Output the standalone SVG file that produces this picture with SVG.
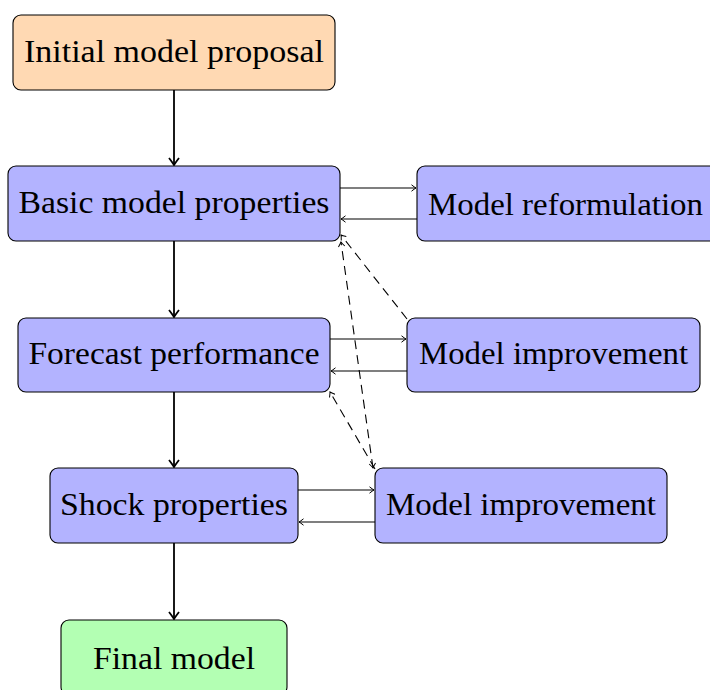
<svg xmlns="http://www.w3.org/2000/svg" width="710" height="690" viewBox="0 0 710 690">
<style>
.box{stroke:#000;stroke-width:1.1}
.orange{fill:#FFD9B3}
.blue{fill:#B3B3FF}
.green{fill:#B3FFB3}
text{font-family:"Liberation Serif","Times New Roman",serif;font-size:32px;fill:#000;text-anchor:middle}
.main{stroke:#000;stroke-width:1.8;fill:none;marker-end:url(#thick)}
.thin{stroke:#000;stroke-width:1.1;fill:none;marker-end:url(#tip)}
.dash{stroke:#000;stroke-width:1.1;fill:none;stroke-dasharray:9 6;marker-end:url(#tip)}
</style>
<defs>
<marker id="thick" viewBox="-9 -6 11 12" markerWidth="11" markerHeight="12" refX="0" refY="0" orient="auto" markerUnits="userSpaceOnUse">
<path d="M-7,-5 Q-2,-1.2 0,0 Q-2,1.2 -7,5" fill="none" stroke="#000" stroke-width="1.8"/>
</marker>
<marker id="tip" viewBox="-6 -4 8 8" markerWidth="8" markerHeight="8" refX="0" refY="0" orient="auto-start-reverse" markerUnits="userSpaceOnUse">
<path d="M-4.5,-3.2 Q-1.5,-0.8 0,0 Q-1.5,0.8 -4.5,3.2" fill="none" stroke="#000" stroke-width="1"/>
</marker>
</defs>
<g id="connectors">
<path class="main" d="M174,90 V165"/>
<path class="main" d="M174,241 V317"/>
<path class="main" d="M174,392 V467"/>
<path class="main" d="M174,543 V619"/>
<path class="thin" d="M340,188 H416"/>
<path class="thin" d="M417,219 H341"/>
<path class="thin" d="M330,339 H406"/>
<path class="thin" d="M407,371 H331"/>
<path class="thin" d="M298,490 H374"/>
<path class="thin" d="M375,522 H299"/>
<path class="dash" d="M407,319 L341,235"/>
<path class="dash" style="marker-start:url(#tip)" d="M373,468 L341,242"/>
<path class="dash" d="M375,469 L330,392"/>
</g>
<g id="initial"><rect class="box orange" x="13" y="15" width="322" height="75" rx="8"/><text x="174" y="62" textLength="300" lengthAdjust="spacingAndGlyphs">Initial model proposal</text></g>
<g id="basic"><rect class="box blue" x="8" y="166" width="332" height="75" rx="8"/><text x="174" y="213" textLength="311" lengthAdjust="spacingAndGlyphs">Basic model properties</text></g>
<g id="reform"><rect class="box blue" x="417" y="166" width="300" height="75" rx="8"/><text x="565.5" y="215" textLength="275" lengthAdjust="spacingAndGlyphs">Model reformulation</text></g>
<g id="forecast"><rect class="box blue" x="18" y="318" width="312" height="74" rx="8"/><text x="174" y="364" textLength="291" lengthAdjust="spacingAndGlyphs">Forecast performance</text></g>
<g id="improve1"><rect class="box blue" x="407" y="318" width="293" height="74" rx="8"/><text x="553.5" y="364" textLength="269" lengthAdjust="spacingAndGlyphs">Model improvement</text></g>
<g id="shock"><rect class="box blue" x="50" y="468" width="248" height="75" rx="8"/><text x="174" y="515" textLength="228" lengthAdjust="spacingAndGlyphs">Shock properties</text></g>
<g id="improve2"><rect class="box blue" x="375" y="468" width="292" height="75" rx="8"/><text x="521" y="515" textLength="270" lengthAdjust="spacingAndGlyphs">Model improvement</text></g>
<g id="final"><rect class="box green" x="61" y="620" width="226" height="75" rx="8"/><text x="174" y="669" textLength="162" lengthAdjust="spacingAndGlyphs">Final model</text></g>
</svg>
